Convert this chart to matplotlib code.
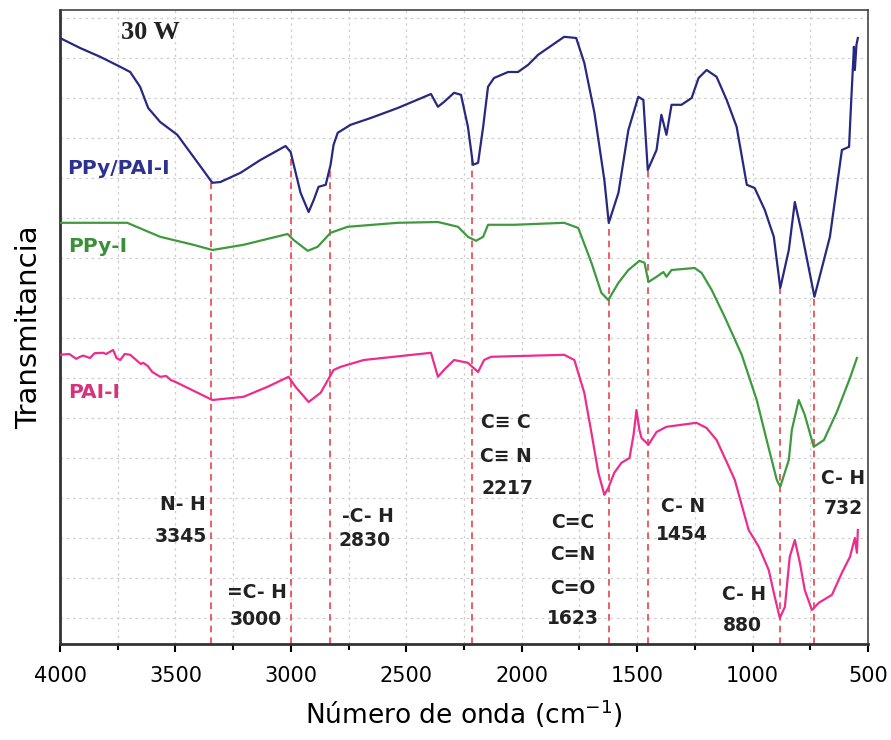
import numpy as np
import matplotlib
matplotlib.use("Agg")
import matplotlib.pyplot as plt
from matplotlib.ticker import MultipleLocator

# FTIR spectra, 30 W sample (stacked, arbitrary transmittance offsets)
wn_ppy_pai = [4000, 3913, 3826, 3739, 3696, 3653, 3618, 3566, 3492, 3422, 3340, 3305,
              3218, 3132, 3023, 3001, 2958, 2923, 2901, 2880, 2849, 2828, 2815, 2797,
              2741, 2654, 2537, 2393, 2363, 2337, 2293, 2263, 2233, 2211, 2189, 2167,
              2146, 2120, 2059, 2016, 1972, 1929, 1816, 1764, 1729, 1685, 1642, 1623,
              1581, 1538, 1495, 1473, 1454, 1416, 1395, 1373, 1351, 1308, 1264, 1234,
              1199, 1156, 1112, 1069, 1025, 991, 947, 908, 880, 843, 817, 787, 732,
              665, 613, 582, 574, 561, 557, 550, 544]
t_ppy_pai = [14.5, 14.25, 14.03, 13.78, 13.65, 13.28, 12.75, 12.4, 12.08, 11.53, 10.88, 10.9,
             11.13, 11.45, 11.8, 11.65, 10.63, 10.15, 10.45, 10.78, 10.83, 11.33, 11.83, 12.13,
             12.33, 12.5, 12.75, 13.1, 12.78, 12.9, 13.13, 13.08, 12.28, 11.33, 11.38, 12.28,
             13.28, 13.5, 13.65, 13.65, 13.83, 14.08, 14.53, 14.5, 13.88, 12.63, 10.95, 9.88,
             10.63, 12.2, 13.03, 12.95, 11.2, 11.7, 12.58, 12.08, 12.83, 12.83, 13.0, 13.5,
             13.7, 13.53, 12.95, 12.28, 10.83, 10.75, 10.2, 9.53, 8.25, 9.2, 10.4, 9.63, 8.03,
             9.53, 11.7, 11.78, 12.78, 14.28, 13.7, 14.33, 14.5]

wn_ppy = [4000, 3709, 3566, 3422, 3340, 3205, 3014, 2988, 2927, 2884, 2828, 2754,
          2537, 2363, 2276, 2233, 2198, 2167, 2146, 2033, 1816, 1755, 1698, 1655,
          1625, 1581, 1538, 1490, 1468, 1451, 1416, 1386, 1373, 1351, 1251, 1221,
          1177, 1121, 1047, 982, 939, 895, 880, 843, 830, 800, 774, 735, 691, 635,
          578, 548]
t_ppy = [9.88, 9.88, 9.53, 9.33, 9.2, 9.33, 9.6, 9.45, 9.18, 9.28, 9.63, 9.78,
         9.88, 9.9, 9.78, 9.53, 9.43, 9.53, 9.83, 9.83, 9.88, 9.75, 8.88, 8.13,
         7.95, 8.38, 8.7, 8.93, 8.88, 8.4, 8.53, 8.65, 8.53, 8.7, 8.75, 8.63,
         8.2, 7.53, 6.58, 5.45, 4.45, 3.45, 3.28, 3.95, 4.7, 5.45, 5.08, 4.28, 4.45, 5.15,
         6.0, 6.5]

wn_pai = [4000, 3960, 3930, 3913, 3900, 3870, 3850, 3813, 3800, 3770, 3755, 3739,
          3720, 3696, 3670, 3650, 3640, 3620, 3600, 3566, 3540, 3520, 3492, 3340,
          3205, 3101, 3010, 2980, 2923, 2871, 2815, 2784, 2684, 2393, 2363, 2337,
          2293, 2233, 2189, 2163, 2133, 1816, 1772, 1729, 1698, 1668, 1642, 1625,
          1599, 1568, 1533, 1515, 1503, 1490, 1481, 1451, 1416, 1373, 1308, 1243,
          1199, 1156, 1112, 1077, 1017, 973, 930, 904, 882, 860, 839, 817, 795,
          774, 743, 713, 656, 613, 578, 557, 548, 544]
t_pai = [6.58, 6.6, 6.48, 6.53, 6.56, 6.5, 6.62, 6.63, 6.6, 6.7, 6.5, 6.45,
         6.6, 6.58, 6.45, 6.35, 6.38, 6.3, 6.15, 6.03, 6.05, 5.95, 5.88, 5.45,
         5.53, 5.78, 6.03, 5.78, 5.4, 5.63, 6.2, 6.28, 6.45, 6.63, 6.03, 6.2,
         6.45, 6.38, 6.15, 6.45, 6.53, 6.58, 6.45, 5.63, 4.63, 3.63, 3.08, 3.25,
         3.63, 3.88, 4.0, 4.6, 5.2, 4.7, 4.5, 4.33, 4.65, 4.78, 4.83, 4.88,
         4.75, 4.45, 3.9, 3.45, 2.2, 1.78, 1.2, 0.53, 0.0, 0.28, 1.53, 1.95, 1.38,
         0.7, 0.2, 0.38, 0.58, 1.13, 1.53, 2.0, 1.63, 2.2]

# band assignments
band_pos = [3345, 3000, 2830, 2217, 1623, 1454, 880, 732]

c_blue, c_green, c_pink = "#27287f", "#3f9a3f", "#ec2d8c"

fig = plt.figure(figsize=(8.91, 7.40), dpi=100)
ax = fig.add_axes([60/891, 96/740, 808/891, 634/740])

ax.plot(wn_ppy_pai, t_ppy_pai, color=c_blue, lw=1.6, zorder=3)
ax.plot(wn_ppy, t_ppy, color=c_green, lw=1.6, zorder=3)
ax.plot(wn_pai, t_pai, color=c_pink, lw=1.6, zorder=3)

# dashed markers from the top spectrum down to the axis
ymin = -0.65
top_at = np.interp(band_pos, wn_ppy_pai[::-1], t_ppy_pai[::-1])
for wn, yt in zip(band_pos, top_at):
    ax.plot([wn, wn], [ymin, yt], color="#e8434a", lw=1.2, dashes=(4, 3), zorder=2)

ax.set_xlim(4000, 500)
ax.set_ylim(ymin, 15.2)
ax.xaxis.set_major_locator(MultipleLocator(500))
ax.xaxis.set_minor_locator(MultipleLocator(250))
ax.set_yticks(np.arange(0, 16))
ax.tick_params(axis="y", length=0, labelleft=False)
ax.tick_params(axis="x", which="major", length=6, width=1.5, labelsize=15, pad=10)
ax.tick_params(axis="x", which="minor", length=4, width=1.5)
ax.grid(True, which="both", color="#cfcfcf", lw=0.9, ls=(0, (2, 3)))
ax.set_axisbelow(True)
for s in ax.spines.values():
    s.set_linewidth(1.2)
    s.set_color("#444444")
ax.spines["left"].set_linewidth(2)
ax.spines["bottom"].set_linewidth(2)
ax.spines["left"].set_color("#333333")
ax.spines["bottom"].set_color("#333333")

ax.set_xlabel("Número de onda (cm$^{-1}$)", fontsize=19, labelpad=8)
ax.set_ylabel("Transmitancia", fontsize=21, labelpad=12)

ax.text(3609, 14.63, "30 W", family="Liberation Serif", weight="bold",
        fontsize=19, ha="center", va="center", color="#222222")

ax.text(3970, 11.25, "PPy/PAI-I", color="#2c3192", weight="bold", fontsize=14.5, va="center")
ax.text(3965, 9.3, "PPy-I", color="#3a8f3a", weight="bold", fontsize=14.5, va="center")
ax.text(3965, 5.63, "PAI-I", color="#d6337f", weight="bold", fontsize=14.5, va="center")

lbl = dict(weight="bold", fontsize=13.5, ha="center", va="center", color="#222222")
ax.text(3466, 2.83, "N- H", **lbl)
ax.text(3475, 2.03, "3345", **lbl)
ax.text(3145, 0.63, "=C- H", **lbl)
ax.text(3150, -0.03, "3000", **lbl)
ax.text(2667, 2.53, "-C- H", **lbl)
ax.text(2680, 1.95, "2830", **lbl)
ax.text(2068, 4.88, "C\u2261 C", **lbl)
ax.text(2068, 4.03, "C\u2261 N", **lbl)
ax.text(2060, 3.23, "2217", **lbl)
ax.text(1777, 2.4, "C=C", **lbl)
ax.text(1777, 1.58, "C=N", **lbl)
ax.text(1777, 0.73, "C=O", **lbl)
ax.text(1780, 0.0, "1623", **lbl)
ax.text(1303, 2.8, "C- N", **lbl)
ax.text(1305, 2.08, "1454", **lbl)
ax.text(1039, 0.6, "C- H", **lbl)
ax.text(1043, -0.18, "880", **lbl)
ax.text(609, 3.5, "C- H", **lbl)
ax.text(609, 2.73, "732", **lbl)

fig.savefig("out.png", dpi=100)
